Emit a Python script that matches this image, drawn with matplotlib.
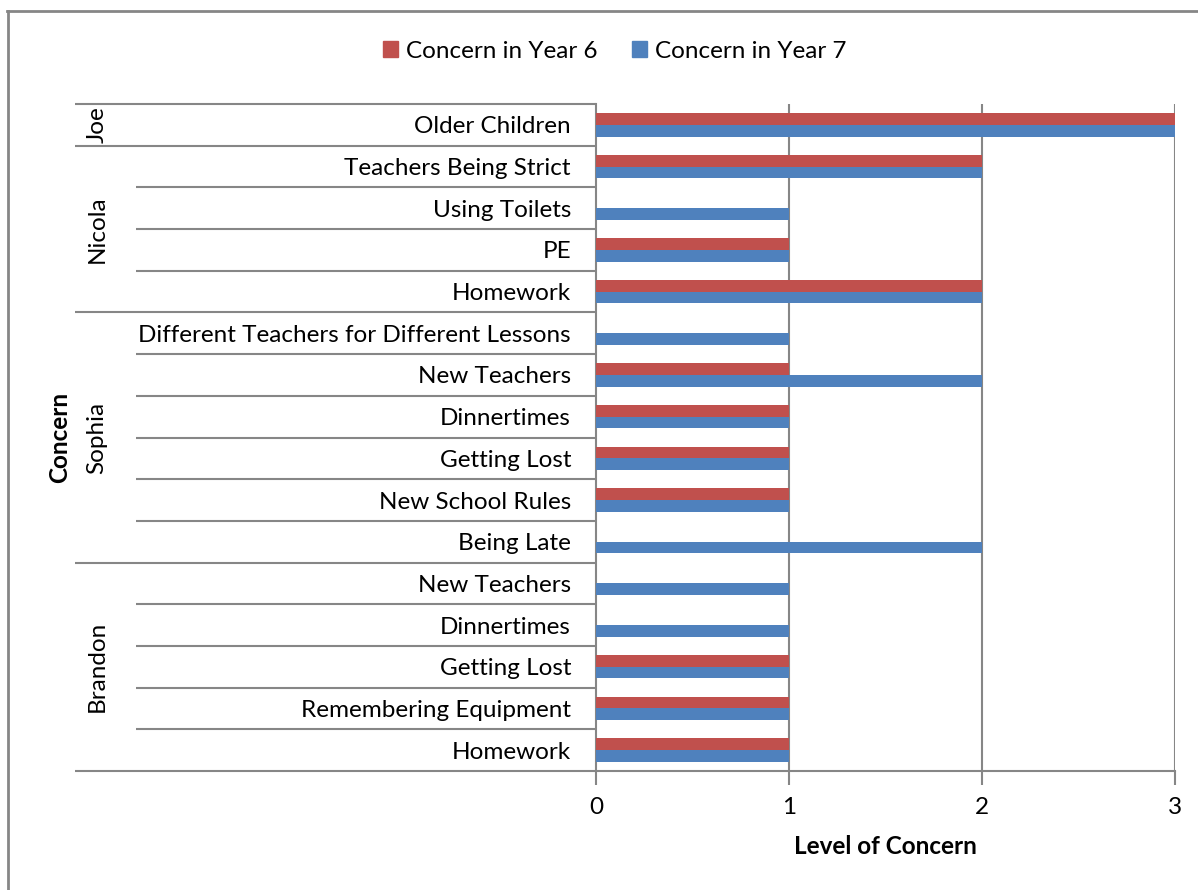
import matplotlib
matplotlib.use("Agg")
import matplotlib.pyplot as plt
from matplotlib.patches import Patch
from matplotlib.transforms import ScaledTranslation

plt.rcParams['font.family'] = ['Lato', 'DejaVu Sans']

groups = ["Joe", "Nicola", "Sophia", "Brandon"]
group_items = [
    ["Older Children"],
    ["Teachers Being Strict", "Using Toilets", "PE", "Homework"],
    ["Different Teachers for Different Lessons", "New Teachers", "Dinnertimes",
     "Getting Lost", "New School Rules", "Being Late"],
    ["New Teachers", "Dinnertimes", "Getting Lost", "Remembering Equipment", "Homework"],
]
year6 = [3, 2, 0, 1, 2, 0, 1, 1, 1, 1, 0, 0, 0, 1, 1, 1]
year7 = [3, 2, 1, 1, 2, 1, 2, 1, 1, 1, 2, 1, 1, 1, 1, 1]
x_ticks = [0, 1, 2, 3]
series_names = ["Concern in Year 6", "Concern in Year 7"]

RED = "#C0504D"
BLUE = "#4F81BD"
GRAY = "#868686"
FS = 17.5

W, H = 1198, 890
fig = plt.figure(figsize=(W / 100, H / 100), dpi=100)
ax_l, ax_r, ax_t, ax_b = 596, 1175, 104, 771
ax = fig.add_axes([ax_l / W, 1 - ax_b / H, (ax_r - ax_l) / W, (ax_b - ax_t) / H])

labels = [item for items in group_items for item in items]
n = len(labels)
pos = [i + 0.5 for i in range(n)]
bh = 0.28
ax.barh([p - bh / 2 for p in pos], year6, height=bh, color=RED, zorder=3)
ax.barh([p + bh / 2 for p in pos], year7, height=bh, color=BLUE, zorder=3)

ax.set_ylim(n, 0)
ax.set_xlim(0, 3)
ax.set_xticks(x_ticks)
ax.set_xticklabels([str(t) for t in x_ticks], fontsize=FS)
ax.tick_params(axis='x', length=10, width=1.5, color=GRAY, pad=9)
ax.set_yticks([])
for x in x_ticks[1:]:
    ax.axvline(x, color=GRAY, lw=1.5, zorder=1)
for s in ['top', 'right']:
    ax.spines[s].set_visible(False)
for s in ['left', 'bottom']:
    ax.spines[s].set_color(GRAY)
    ax.spines[s].set_linewidth(1.5)

# category labels
tr = ax.get_yaxis_transform()
tr_lab = tr + ScaledTranslation(0, -2 / 100, fig.dpi_scale_trans)
axw = ax_r - ax_l
def ax_x(px):
    return (px - ax_l) / axw

for p, lab in zip(pos, labels):
    ax.text(ax_x(571), p, lab, transform=tr_lab, ha='right', va='center', fontsize=FS)

# separators
start = 0
boundaries = [0]
for items in group_items:
    start += len(items)
    boundaries.append(start)
for b in range(n + 1):
    xs = ax_x(75) if b in boundaries else ax_x(136)
    ax.plot([xs, 0], [b, b], transform=tr, color=GRAY, lw=1.5, clip_on=False,
            solid_capstyle='butt')
# group labels
for g, (b0, b1) in zip(groups, zip(boundaries[:-1], boundaries[1:])):
    ax.text(ax_x(97), (b0 + b1) / 2, g, transform=tr, rotation=90,
            ha='center', va='center', fontsize=FS)

fig.text(60 / W, 1 - 437 / H, "Concern", rotation=90, ha='center', va='center',
         fontsize=FS, fontweight='bold')
fig.text(885 / W, 1 - 847 / H, "Level of Concern", ha='center', va='center',
         fontsize=FS, fontweight='bold')

handles = [Patch(color=RED), Patch(color=BLUE)]
fig.legend(handles, series_names, loc='center', bbox_to_anchor=(615 / W, 1 - 51 / H),
           ncol=2, frameon=False, fontsize=FS, handlelength=0.6, handleheight=0.6,
           handletextpad=0.35, columnspacing=1.4)

# outer frame (top and left)
fig.add_artist(plt.Line2D([8 / W, 8 / W], [0, 1 - 11 / H], transform=fig.transFigure,
                          color=GRAY, lw=2))
fig.add_artist(plt.Line2D([7 / W, 1], [1 - 11 / H, 1 - 11 / H], transform=fig.transFigure,
                          color=GRAY, lw=2))

fig.savefig("out.png", dpi=100)
